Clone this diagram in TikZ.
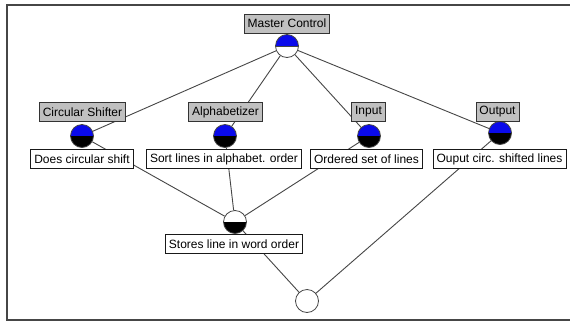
\documentclass[tikz,border=0pt]{standalone}
\usepackage{fontspec}
\setmainfont{Liberation Sans}
\definecolor{edgegray}{RGB}{70,70,70}
\definecolor{labelgray}{RGB}{192,192,192}
\definecolor{dotblue}{RGB}{10,10,235}
\begin{document}
\begin{tikzpicture}[x=1pt,y=-1pt,
  font=\fontsize{12}{14}\selectfont,
  conn/.style={draw=edgegray, line width=0.9pt},
  labelbox/.style={draw=black!80, fill=labelgray, line width=0.8pt, inner xsep=3.5pt, inner ysep=0pt, minimum height=19pt},
  descbox/.style={draw=black!90, fill=white, line width=0.8pt, inner xsep=3.5pt, inner ysep=0pt, minimum height=19pt},
  dot/.style={circle, draw=edgegray, line width=0.8pt, minimum size=23pt, inner sep=0pt},
  blueblack/.style={dot, path picture={
      \fill[dotblue] (path picture bounding box.north west) rectangle (path picture bounding box.east);
      \fill[black] (path picture bounding box.west) rectangle (path picture bounding box.south east);}},
  bluewhite/.style={dot, path picture={
      \fill[dotblue] (path picture bounding box.north west) rectangle (path picture bounding box.east);
      \fill[white] (path picture bounding box.west) rectangle (path picture bounding box.south east);
      \draw[edgegray, line width=0.6pt] (path picture bounding box.west) -- (path picture bounding box.east);}},
  whiteblack/.style={dot, path picture={
      \fill[white] (path picture bounding box.north west) rectangle (path picture bounding box.east);
      \fill[black] (path picture bounding box.west) rectangle (path picture bounding box.south east);}},
  plaindot/.style={dot, fill=white}
]
\useasboundingbox (0,0) rectangle (570,322);
\fill[white] (0,0) rectangle (570,322);
% frame
\draw[edgegray, line width=2pt] (570,5) -- (6.5,5) -- (6.5,320) -- (570,320);

% circles
\node[bluewhite] (mc) at (287,46) {};
\node[blueblack] (csc) at (82,136) {};
\node[blueblack] (alc) at (225,136) {};
\node[blueblack] (inc) at (369,136) {};
\node[blueblack] (ouc) at (500,133) {};
\node[whiteblack] (mid) at (235,222) {};
\node[plaindot] (bot) at (307,301) {};

% connectors (drawn behind the boxes)
\draw[conn] (mc) -- (csc);
\draw[conn] (mc) -- (alc);
\draw[conn] (mc) -- (inc);
\draw[conn] (mc) -- (ouc);
\draw[conn] (csc) -- (mid);
\draw[conn] (alc) -- (mid);
\draw[conn] (inc) -- (mid);
\draw[conn] (ouc) -- (bot);
\draw[conn] (mid) -- (bot);

% label boxes
\node[labelbox] (mcl) at (287,23.5) {Master Control};
\node[labelbox] (csl) at (82.5,112) {Circular Shifter};
\node[labelbox] (all) at (225.5,112) {Alphabetizer};
\node[labelbox] (inl) at (368.5,112) {Input};
\node[labelbox] (oul) at (497.5,112) {Output};

% description boxes
\node[descbox] (csd) at (82,159) {Does circular shift};
\node[descbox] (ald) at (224,159) {Sort lines in alphabet. order};
\node[descbox] (ind) at (366.5,159) {Ordered set of lines};
\node[descbox] (oud) at (499.5,159) {Ouput circ. shifted lines};
\node[descbox] (mdd) at (234,244) {Stores line in word order};
\end{tikzpicture}
\end{document}
